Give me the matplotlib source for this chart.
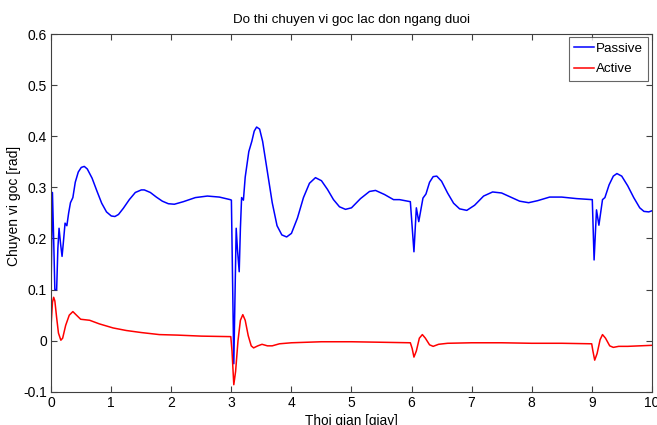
import matplotlib
matplotlib.use("Agg")
import matplotlib.pyplot as plt

plt.rcParams['font.family'] = ['Liberation Sans', 'DejaVu Sans']

# thoi gian [s] va goc [rad] doc tu hinh
t_passive = [0.00, 0.02, 0.04, 0.06, 0.09, 0.11, 0.13, 0.155, 0.18, 0.20, 0.23, 0.26, 0.29,
             0.32, 0.36, 0.40, 0.45, 0.50, 0.55, 0.60, 0.68, 0.76, 0.84, 0.92, 1.00, 1.06,
             1.12, 1.20, 1.30, 1.40, 1.50, 1.55, 1.65, 1.75, 1.85, 1.95, 2.05, 2.20, 2.40,
             2.60, 2.80, 2.98, 3.00, 3.04, 3.08, 3.10, 3.13, 3.15, 3.17, 3.20, 3.23, 3.29,
             3.34, 3.38, 3.42, 3.47, 3.52, 3.60, 3.68, 3.76, 3.84, 3.92, 4.00, 4.10, 4.20,
             4.30, 4.40, 4.50, 4.60, 4.70, 4.80, 4.90, 5.00, 5.15, 5.30, 5.40, 5.55, 5.70,
             5.80, 5.98, 6.04, 6.08, 6.12, 6.19, 6.24, 6.30, 6.36, 6.42, 6.50, 6.60, 6.70,
             6.80, 6.92, 7.05, 7.20, 7.35, 7.50, 7.65, 7.80, 7.95, 8.10, 8.30, 8.50, 8.75,
             9.01, 9.04, 9.08, 9.12, 9.18, 9.22, 9.29, 9.36, 9.42, 9.50, 9.60, 9.70, 9.80,
             9.87, 9.95, 10.00]
passive = [0.13, 0.29, 0.20, 0.10, 0.10, 0.18, 0.22, 0.19, 0.165, 0.19, 0.23, 0.225, 0.25,
           0.27, 0.28, 0.31, 0.33, 0.339, 0.341, 0.336, 0.318, 0.293, 0.269, 0.252, 0.244, 0.243,
           0.247, 0.259, 0.276, 0.290, 0.295, 0.295, 0.290, 0.281, 0.273, 0.268, 0.267, 0.272, 0.280,
           0.283, 0.281, 0.276, 0.275, -0.045, 0.22, 0.18, 0.135, 0.22, 0.28, 0.275, 0.32, 0.37,
           0.39, 0.41, 0.418, 0.414, 0.39, 0.33, 0.27, 0.225, 0.207, 0.203, 0.210, 0.240, 0.280,
           0.308, 0.319, 0.313, 0.296, 0.276, 0.262, 0.257, 0.260, 0.278, 0.292, 0.294, 0.286, 0.276,
           0.276, 0.272, 0.174, 0.26, 0.233, 0.279, 0.287, 0.310, 0.321, 0.322, 0.312, 0.289, 0.269,
           0.258, 0.255, 0.265, 0.283, 0.291, 0.289, 0.281, 0.273, 0.270, 0.274, 0.281, 0.281, 0.278,
           0.276, 0.158, 0.256, 0.226, 0.276, 0.28, 0.305, 0.322, 0.327, 0.322, 0.303, 0.280, 0.260,
           0.253, 0.252, 0.254]

t_active = [0.00, 0.02, 0.04, 0.06, 0.09, 0.12, 0.16, 0.19, 0.24, 0.30, 0.36, 0.42, 0.49,
            0.64, 0.80, 1.03, 1.25, 1.50, 1.80, 2.10, 2.50, 2.99, 3.01, 3.04, 3.07, 3.11,
            3.15, 3.19, 3.23, 3.28, 3.33, 3.37, 3.44, 3.51, 3.60, 3.68, 3.80, 4.00, 4.50,
            5.00, 5.50, 5.98, 6.01, 6.04, 6.08, 6.13, 6.18, 6.23, 6.30, 6.36, 6.45, 6.60,
            7.00, 7.50, 8.00, 8.50, 9.00, 9.02, 9.05, 9.09, 9.14, 9.18, 9.23, 9.30, 9.36,
            9.45, 9.60, 10.00]
active = [0.035, 0.075, 0.085, 0.078, 0.045, 0.015, 0.001, 0.005, 0.030, 0.050, 0.057, 0.050, 0.042,
          0.040, 0.033, 0.025, 0.020, 0.016, 0.012, 0.011, 0.009, 0.008, -0.02, -0.086, -0.06, 0.00,
          0.040, 0.051, 0.04, 0.01, -0.01, -0.014, -0.010, -0.007, -0.010, -0.010, -0.006, -0.004, -0.002,
          -0.002, -0.003, -0.004, -0.015, -0.032, -0.020, 0.005, 0.012, 0.005, -0.008, -0.011, -0.007, -0.005,
          -0.004, -0.004, -0.005, -0.005, -0.006, -0.02, -0.038, -0.025, 0.002, 0.012, 0.005, -0.010, -0.013,
          -0.011, -0.011, -0.009]

x_ticks = list(range(0, 11))
y_ticks = [-0.1, 0, 0.1, 0.2, 0.3, 0.4, 0.5, 0.6]
y_labels = ['-0.1', '0', '0.1', '0.2', '0.3', '0.4', '0.5', '0.6']

fig = plt.figure(figsize=(6.57, 4.25), dpi=100)
ax = fig.add_axes([0.078, 0.078, 0.914, 0.842])

ax.plot(t_passive, passive, color='#0000ff', lw=1.1, label='Passive')
ax.plot(t_active, active, color='#ff0000', lw=1.1, label='Active')

ax.set_xlim(0, 10)
ax.set_ylim(-0.1, 0.6)
ax.set_xticks(x_ticks)
ax.set_yticks(y_ticks)
ax.set_yticklabels(y_labels)
ax.tick_params(direction='in', top=True, right=True, length=4, labelsize=10, pad=3,
               color='#404040')
for s in ax.spines.values():
    s.set_color('#404040')
    s.set_linewidth(0.8)

ax.set_title('Do thi chuyen vi goc lac don ngang duoi', fontsize=9.6, pad=8)
ax.set_xlabel('Thoi gian [giay]', fontsize=9.8, labelpad=3)
ax.set_ylabel('Chuyen vi goc [rad]', fontsize=10)
ax.yaxis.set_label_coords(-0.05, 0.52)

leg = ax.legend(loc='upper right', fontsize=9.6, handlelength=1.5, handletextpad=0.15,
                borderpad=0.4, labelspacing=0.6, fancybox=False, borderaxespad=0.25)
leg.get_frame().set_edgecolor('#404040')
leg.get_frame().set_linewidth(0.8)

fig.savefig('out.png', dpi=100)
